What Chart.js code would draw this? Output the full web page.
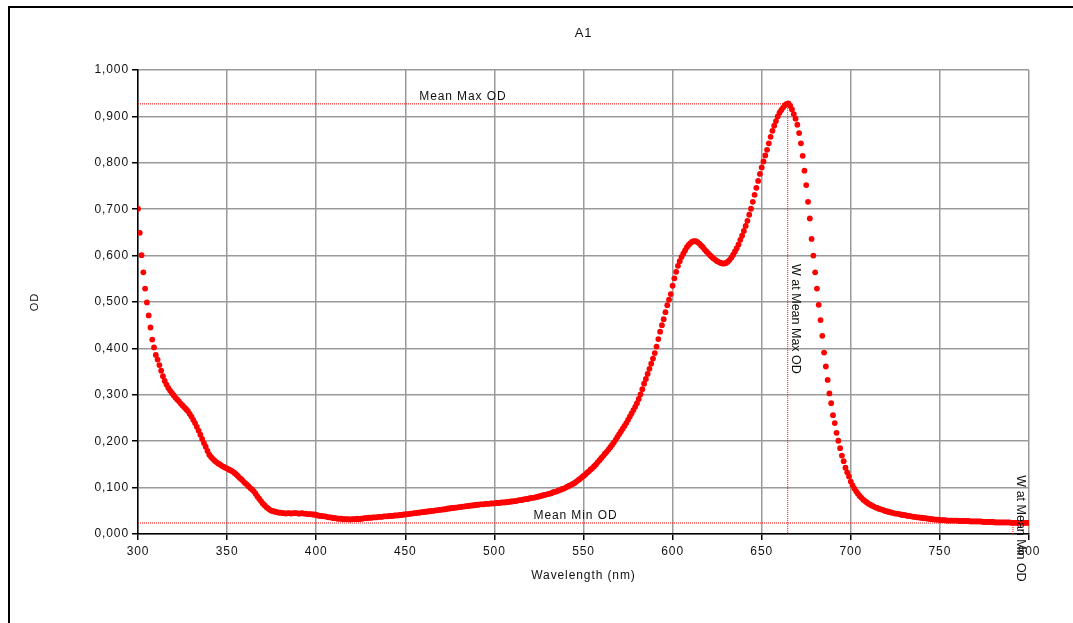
<!DOCTYPE html>
<html>
<head>
<meta charset="utf-8">
<script src="https://cdn.jsdelivr.net/npm/chart.js@4.4.1/dist/chart.umd.min.js"></script>
<style>
  body { margin: 0; background: #fff; }
  #wrap { position: relative; width: 1073px; height: 623px; }
  #frame { position: absolute; left: 8px; top: 6px; right: 0; bottom: 0; border-left: 2px solid #000; border-top: 2px solid #000; pointer-events: none; }
</style>
</head>
<body>
<div id="wrap">
  <canvas id="odChart" width="1073" height="623"></canvas>
  <div id="frame"></div>
</div>
<script>
const chartTitle = 'A1';
const xTitle = 'Wavelength (nm)';
const yTitle = 'OD';

// spectrum sampled every 1 nm from 300 nm
const startNm = 300;
const stepNm = 1;
const odValues = [
  0.701, 0.649, 0.601, 0.564, 0.529, 0.499, 0.471, 0.445, 0.419, 0.402,
  0.386, 0.376, 0.364, 0.352, 0.340, 0.330, 0.322, 0.315, 0.309, 0.304,
  0.299, 0.294, 0.290, 0.286, 0.281, 0.277, 0.273, 0.269, 0.265, 0.259,
  0.253, 0.246, 0.239, 0.231, 0.223, 0.214, 0.205, 0.196, 0.188, 0.179,
  0.171, 0.166, 0.162, 0.158, 0.155, 0.152, 0.150, 0.147, 0.145, 0.143,
  0.141, 0.139, 0.137, 0.135, 0.132, 0.129, 0.125, 0.121, 0.118, 0.114,
  0.110, 0.107, 0.103, 0.099, 0.096, 0.092, 0.087, 0.081, 0.076, 0.071,
  0.066, 0.062, 0.058, 0.055, 0.052, 0.050, 0.049, 0.048, 0.047, 0.046,
  0.046, 0.045, 0.045, 0.044, 0.045, 0.045, 0.044, 0.045, 0.045, 0.045,
  0.044, 0.044, 0.045, 0.044, 0.044, 0.043, 0.043, 0.043, 0.042, 0.042,
  0.041, 0.040, 0.039, 0.039, 0.038, 0.038, 0.037, 0.036, 0.036, 0.035,
  0.034, 0.034, 0.033, 0.033, 0.033, 0.032, 0.032, 0.032, 0.032, 0.031,
  0.032, 0.032, 0.032, 0.033, 0.032, 0.033, 0.033, 0.034, 0.034, 0.035,
  0.035, 0.035, 0.036, 0.036, 0.036, 0.037, 0.037, 0.037, 0.038, 0.038,
  0.038, 0.039, 0.039, 0.039, 0.040, 0.040, 0.040, 0.041, 0.041, 0.042,
  0.042, 0.043, 0.043, 0.044, 0.044, 0.045, 0.045, 0.046, 0.046, 0.047,
  0.047, 0.048, 0.048, 0.049, 0.049, 0.050, 0.050, 0.051, 0.051, 0.052,
  0.052, 0.053, 0.053, 0.054, 0.055, 0.055, 0.056, 0.056, 0.057, 0.057,
  0.058, 0.058, 0.059, 0.059, 0.060, 0.060, 0.061, 0.061, 0.062, 0.062,
  0.063, 0.063, 0.064, 0.064, 0.064, 0.065, 0.065, 0.065, 0.066, 0.066,
  0.066, 0.067, 0.067, 0.067, 0.068, 0.068, 0.068, 0.069, 0.069, 0.070,
  0.070, 0.071, 0.071, 0.072, 0.073, 0.073, 0.074, 0.075, 0.075, 0.076,
  0.077, 0.078, 0.078, 0.079, 0.080, 0.081, 0.082, 0.083, 0.084, 0.085,
  0.086, 0.087, 0.088, 0.090, 0.091, 0.092, 0.094, 0.095, 0.097, 0.098,
  0.100, 0.102, 0.104, 0.106, 0.108, 0.110, 0.113, 0.116, 0.119, 0.122,
  0.125, 0.128, 0.132, 0.135, 0.139, 0.142, 0.146, 0.150, 0.155, 0.159,
  0.164, 0.168, 0.173, 0.177, 0.182, 0.187, 0.192, 0.197, 0.203, 0.209,
  0.215, 0.221, 0.227, 0.233, 0.239, 0.246, 0.253, 0.260, 0.267, 0.274,
  0.282, 0.291, 0.301, 0.312, 0.324, 0.334, 0.345, 0.356, 0.367, 0.378,
  0.390, 0.404, 0.420, 0.436, 0.450, 0.463, 0.478, 0.493, 0.505, 0.517,
  0.535, 0.551, 0.565, 0.578, 0.588, 0.597, 0.604, 0.611, 0.618, 0.623,
  0.627, 0.630, 0.631, 0.631, 0.629, 0.626, 0.622, 0.618, 0.613, 0.609,
  0.605, 0.601, 0.597, 0.594, 0.591, 0.588, 0.586, 0.584, 0.583, 0.583,
  0.584, 0.587, 0.591, 0.596, 0.602, 0.609, 0.616, 0.624, 0.634, 0.643,
  0.653, 0.664, 0.675, 0.688, 0.701, 0.716, 0.731, 0.746, 0.761, 0.776,
  0.790, 0.803, 0.816, 0.828, 0.842, 0.856, 0.869, 0.880, 0.890, 0.900,
  0.908, 0.914, 0.919, 0.924, 0.927, 0.928, 0.923, 0.915, 0.905, 0.895,
  0.882, 0.864, 0.842, 0.815, 0.783, 0.752, 0.716, 0.680, 0.636, 0.600,
  0.564, 0.529, 0.494, 0.461, 0.427, 0.391, 0.361, 0.332, 0.303, 0.282,
  0.256, 0.239, 0.218, 0.201, 0.185, 0.169, 0.157, 0.143, 0.133, 0.124,
  0.113, 0.105, 0.098, 0.092, 0.087, 0.082, 0.078, 0.074, 0.071, 0.068,
  0.065, 0.063, 0.061, 0.059, 0.057, 0.056, 0.054, 0.053, 0.052, 0.050,
  0.049, 0.048, 0.047, 0.046, 0.045, 0.044, 0.044, 0.043, 0.042, 0.041,
  0.041, 0.040, 0.039, 0.039, 0.038, 0.037, 0.037, 0.036, 0.036, 0.035,
  0.035, 0.034, 0.034, 0.033, 0.033, 0.032, 0.032, 0.031, 0.031, 0.031,
  0.030, 0.030, 0.030, 0.030, 0.029, 0.029, 0.029, 0.029, 0.029, 0.029,
  0.029, 0.028, 0.028, 0.028, 0.028, 0.028, 0.028, 0.027, 0.027, 0.027,
  0.027, 0.027, 0.027, 0.027, 0.026, 0.026, 0.026, 0.026, 0.026, 0.026,
  0.026, 0.025, 0.025, 0.025, 0.025, 0.025, 0.025, 0.025, 0.025, 0.025,
  0.024, 0.024, 0.024, 0.024, 0.024, 0.024, 0.024, 0.024, 0.024, 0.024,
  0.024
];

// reference markers
const meanMaxOd = 0.927;
const meanMinOd = 0.0237;
const wAtMeanMax = 664.6;
const wAtMeanMin = 791;

const xMin = 300, xMax = 800, xStep = 50;
const yMin = 0, yMax = 1, yStep = 0.1;

const FONT = "'Liberation Sans', Arial, sans-serif";
const points = odValues.map((v, i) => ({ x: startNm + i * stepNm, y: v }));

const markers = {
  id: 'markers',
  beforeDraw(chart) {
    chart.ctx.letterSpacing = '0.9px';
  },
  afterDraw(chart) {
    const { ctx, chartArea: a, scales: { x, y } } = chart;
    ctx.save();
    ctx.letterSpacing = '0.9px';

    ctx.fillStyle = '#111';
    ctx.font = '13px ' + FONT;
    ctx.textAlign = 'center';
    ctx.textBaseline = 'middle';
    ctx.fillText(chartTitle, (a.left + a.right) / 2, 33);

    const yHi = y.getPixelForValue(meanMaxOd);
    const yLo = y.getPixelForValue(meanMinOd);
    const xHi = x.getPixelForValue(wAtMeanMax);
    const xLo = x.getPixelForValue(wAtMeanMin);

    ctx.strokeStyle = '#ff0000';
    ctx.lineWidth = 1;
    ctx.setLineDash([1, 1]);
    const line = (x1, y1, x2, y2) => {
      ctx.beginPath();
      ctx.moveTo(x1, y1);
      ctx.lineTo(x2, y2);
      ctx.stroke();
    };
    line(a.left, yHi, xHi, yHi);
    line(a.left, yLo, xLo, yLo);
    line(xHi, yHi, xHi, a.bottom);
    line(xLo, yLo, xLo, a.bottom);

    ctx.setLineDash([]);
    ctx.fillStyle = '#111';
    ctx.font = '12px ' + FONT;
    ctx.textBaseline = 'bottom';
    ctx.fillText('Mean Max OD', (a.left + xHi) / 2, yHi - 1);
    ctx.fillText('Mean Min OD', (a.left + xLo) / 2, yLo - 1);

    // rotated labels read top to bottom, centred on their vertical marker
    const vLabel = (text, px, top) => {
      ctx.save();
      ctx.letterSpacing = '0px';
      ctx.font = '12.5px ' + FONT;
      ctx.translate(px + 1.5, (top + a.bottom) / 2);
      ctx.rotate(Math.PI / 2);
      ctx.textAlign = 'center';
      ctx.textBaseline = 'bottom';
      ctx.fillText(text, 0, 0);
      ctx.restore();
    };
    vLabel('W at Mean Max OD', xHi, yHi);
    vLabel('W at Mean Min OD', xLo, yLo);
    ctx.restore();
  }
};

new Chart(document.getElementById('odChart'), {
  type: 'scatter',
  data: {
    datasets: [{
      data: points,
      pointRadius: 2.9,
      pointBackgroundColor: '#ff0000',
      pointBorderWidth: 0,
      showLine: false
    }]
  },
  options: {
    responsive: false,
    animation: false,
    events: [],
    layout: { padding: { left: 0, right: 44, top: 70, bottom: 0 } },
    plugins: {
      legend: { display: false },
      title: { display: false },
      tooltip: { enabled: false }
    },
    scales: {
      x: {
        type: 'linear',
        min: xMin,
        max: xMax,
        afterFit(scale) { scale.height = 89; },
        ticks: {
          stepSize: xStep,
          padding: 4,
          color: '#111',
          font: { family: FONT, size: 12 }
        },
        grid: { color: '#9a9a9a', lineWidth: 1.5, tickLength: 6, tickColor: '#000', tickWidth: 1.5 },
        border: { color: '#000', width: 1.5 },
        title: {
          display: true,
          text: xTitle,
          color: '#111',
          font: { family: FONT, size: 12 },
          padding: { top: 0, bottom: 40 }
        }
      },
      y: {
        min: yMin,
        max: yMax,
        afterFit(scale) { scale.width = 138; },
        ticks: {
          stepSize: yStep,
          padding: 3,
          color: '#111',
          font: { family: FONT, size: 12 },
          callback: v => v.toFixed(3).replace('.', ',')
        },
        grid: { color: '#9a9a9a', lineWidth: 1.5, tickLength: 6, tickColor: '#000', tickWidth: 1.5 },
        border: { color: '#000', width: 1.5 },
        title: {
          display: true,
          text: yTitle,
          color: '#111',
          font: { family: FONT, size: 11 },
          padding: { top: 28, bottom: 0 }
        }
      }
    }
  },
  plugins: [markers]
});
</script>
</body>
</html>
